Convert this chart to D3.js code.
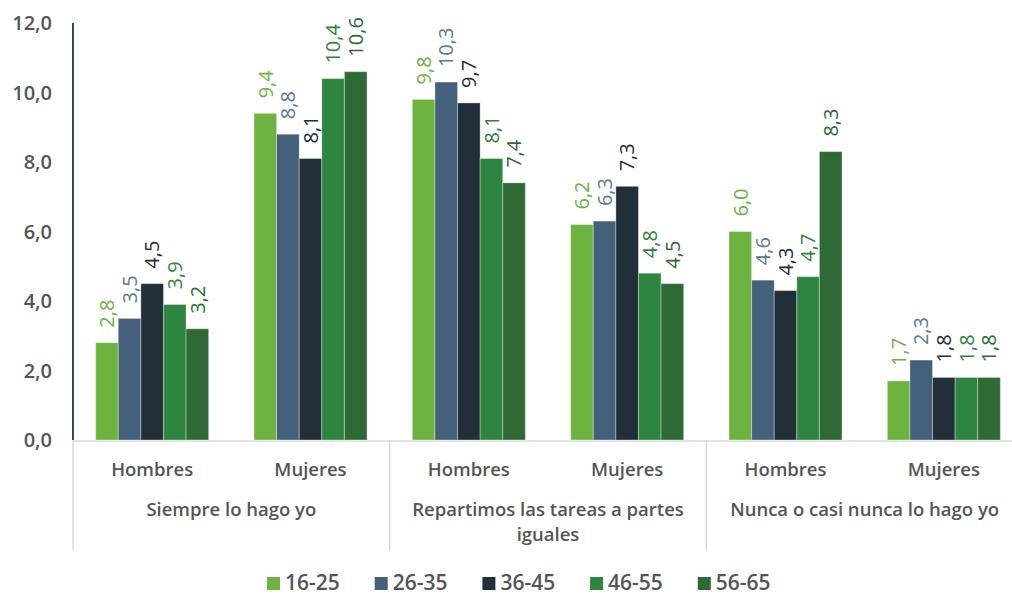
<!DOCTYPE html>
<html><head><meta charset="utf-8">
<script src="https://cdn.jsdelivr.net/npm/d3@7"></script>
<style>
body{margin:0;background:#fff;}
svg{display:block;font-family:"Open Sans",sans-serif;}
</style></head>
<body><svg id="c" width="1012" height="596"></svg>
<script>
const groups = ["Siempre lo hago yo", "Repartimos las tareas a partes|iguales", "Nunca o casi nunca lo hago yo"];
const sexes = ["Hombres", "Mujeres"];
const series = ["16-25", "26-35", "36-45", "46-55", "56-65"];
const colors = ["#6db33f", "#44607a", "#222e38", "#2e8540", "#2d6a35"];
const labelColors = ["#6db33f", "#5b7a94", "#222e38", "#2e8540", "#2d6a35"];
// values per series, in order: Siempre H, Siempre M, Repartimos H, Repartimos M, Nunca H, Nunca M
const v1625 = [2.8, 9.4, 9.8, 6.2, 6.0, 1.7];
const v2635 = [3.5, 8.8, 10.3, 6.3, 4.6, 2.3];
const v3645 = [4.5, 8.1, 9.7, 7.3, 4.3, 1.8];
const v4655 = [3.9, 10.4, 8.1, 4.8, 4.7, 1.8];
const v5665 = [3.2, 10.6, 7.4, 4.5, 8.3, 1.8];
const values = [v1625, v2635, v3645, v4655, v5665];
const yTicks = [0, 2, 4, 6, 8, 10, 12];

const svg = d3.select("#c");
const pL = 73, pR = 1023, pT = 23, pB = 440;
const cats = [];
groups.forEach((g, gi) => sexes.forEach(s => cats.push(gi + "|" + s)));

const x = d3.scaleBand().domain(cats).range([pL, pR]).paddingInner(0).paddingOuter(0);
const inner = d3.scaleBand().domain(series).range([0, 113]);
const y = d3.scaleLinear().domain([0, 12]).range([pB, pT]);
const fmt = d => d.toFixed(1).replace(".", ",");

// y axis labels
svg.append("g").selectAll("text").data(yTicks).join("text")
  .attr("x", 52).attr("y", d => y(d)).attr("dy", "0.36em")
  .attr("text-anchor", "end").attr("font-size", 20).attr("font-weight", 600)
  .attr("fill", "#555").text(fmt);

// baseline
svg.append("line").attr("x1", pL).attr("x2", pR).attr("y1", pB + 1).attr("y2", pB + 1)
  .attr("stroke", "#d9d9d9").attr("stroke-width", 1.5);
// group separators
[0, 2, 4].forEach(i => {
  const xx = x(cats[i]);
  svg.append("line").attr("x1", xx).attr("x2", xx).attr("y1", pB).attr("y2", 550)
    .attr("stroke", "#d9d9d9").attr("stroke-width", 1.5);
});
// y axis line
svg.append("line").attr("x1", pL).attr("x2", pL).attr("y1", pT).attr("y2", pB)
  .attr("stroke", "#3a4a58").attr("stroke-width", 2);

// bars
const bw = x.bandwidth();
series.forEach((s, si) => {
  const g = svg.append("g");
  g.selectAll("rect").data(values[si]).join("rect")
    .attr("x", (d, i) => x(cats[i]) + (bw - 113) / 2 + inner(s))
    .attr("width", inner.bandwidth())
    .attr("y", d => y(d)).attr("height", d => pB - y(d))
    .attr("fill", colors[si]).attr("stroke", "rgba(255,255,255,0.35)").attr("stroke-width", 1);
  g.selectAll("text").data(values[si]).join("text")
    .attr("transform", (d, i) => {
      const cx = x(cats[i]) + (bw - 113) / 2 + inner(s) + inner.bandwidth() / 2;
      return `translate(${cx},${y(d) - 15}) rotate(-90)`;
    })
    .attr("dy", "0.36em").attr("font-size", 20).attr("font-weight", 500)
    .attr("fill", labelColors[si]).text(fmt);
});

// category labels
svg.append("g").selectAll("text").data(cats).join("text")
  .attr("x", d => x(d) + bw / 2).attr("y", 476).attr("text-anchor", "middle")
  .attr("font-size", 18.5).attr("font-weight", 600).attr("fill", "#555")
  .text(d => d.split("|")[1]);

groups.forEach((g, gi) => {
  const cx = x(cats[gi * 2]) + bw;
  const lines = g.split("|");
  const t = svg.append("text").attr("text-anchor", "middle").attr("font-size", 18.5)
    .attr("font-weight", 600).attr("fill", "#555");
  lines.forEach((l, li) => t.append("tspan").attr("x", cx).attr("y", 516 + li * 25).text(l));
});

// legend
const lg = svg.append("g");
series.forEach((s, si) => {
  const lx = 267 + si * 107.7;
  lg.append("rect").attr("x", lx).attr("y", 577).attr("width", 13).attr("height", 13).attr("fill", colors[si]);
  lg.append("text").attr("x", lx + 18).attr("y", 590).attr("font-size", 21).attr("font-weight", 600)
    .attr("fill", "#555").text(s);
});
</script></body></html>
